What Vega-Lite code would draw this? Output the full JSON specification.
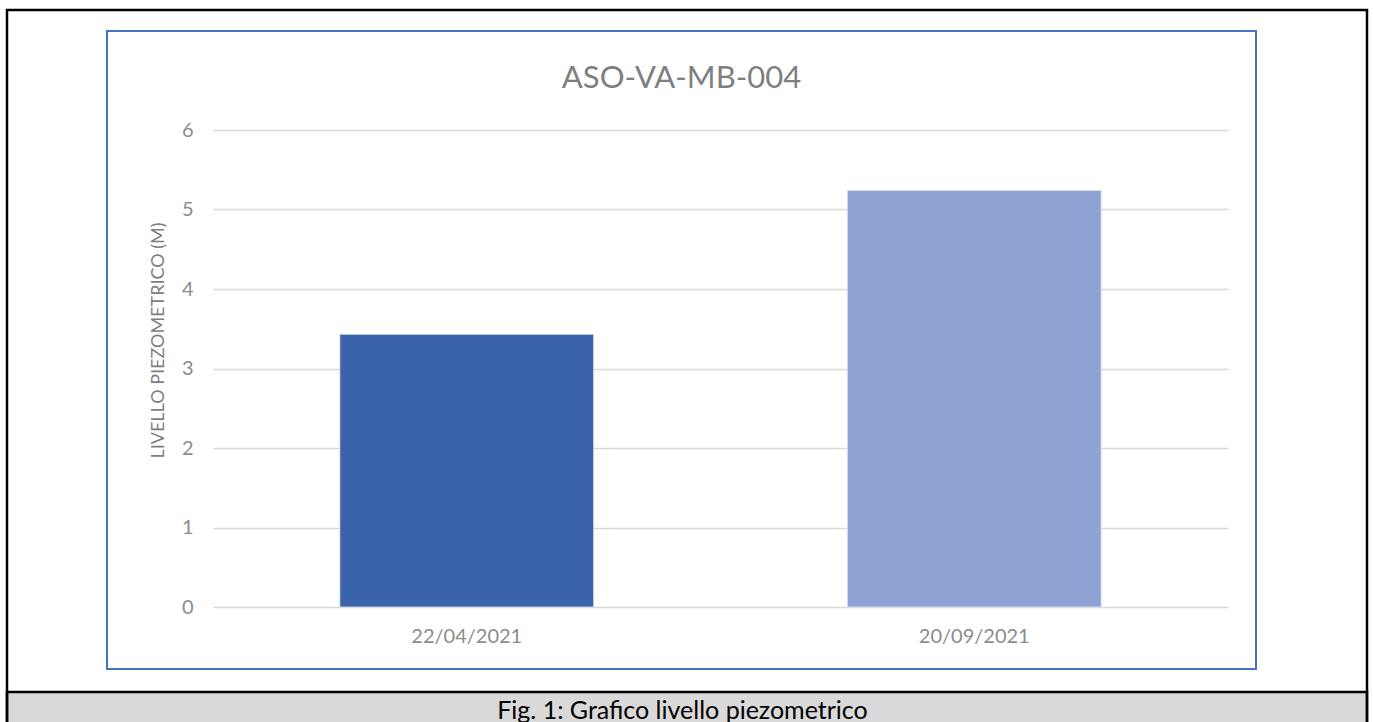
{
  "$schema": "https://vega.github.io/schema/vega-lite/v6.json",
  "width": 1015,
  "height": 477,
  "autosize": {"type": "none"},
  "padding": {"left": 213, "top": 130, "right": 145, "bottom": 115},
  "background": "white",
  "config": {"view": {"stroke": null}},
  "title": {
    "text": "ASO-VA-MB-004",
    "font": "Lato",
    "fontSize": 31,
    "fontWeight": "normal",
    "color": "#7f7f7f",
    "anchor": "middle",
    "frame": "group",
    "baseline": "alphabetic",
    "dx": -39,
    "offset": -110
  },
  "data": {
    "values": [
      {"data": "22/04/2021", "livello": 3.43},
      {"data": "20/09/2021", "livello": 5.24}
    ]
  },
  "layer": [
    {
      "data": {"values": [{}]},
      "mark": {"type": "rect", "fill": "#d9d9d9", "stroke": "black", "strokeWidth": 2.5},
      "encoding": {
        "x": {"value": -206},
        "x2": {"value": 1154},
        "y": {"value": 562},
        "y2": {"value": 610}
      }
    },
    {
      "data": {"values": [{}]},
      "mark": {"type": "rect", "fill": null, "fillOpacity": 0, "stroke": "black", "strokeWidth": 2.5},
      "encoding": {
        "x": {"value": -206},
        "x2": {"value": 1154},
        "y": {"value": -120},
        "y2": {"value": 610}
      }
    },
    {
      "data": {"values": [{}]},
      "mark": {"type": "rect", "fill": null, "fillOpacity": 0, "stroke": "#4472c4", "strokeWidth": 2},
      "encoding": {
        "x": {"value": -106},
        "x2": {"value": 1043},
        "y": {"value": -99},
        "y2": {"value": 539}
      }
    },
    {
      "mark": {"type": "bar", "stroke": "#dde4f2", "strokeWidth": 0.8},
      "encoding": {
        "x": {
          "field": "data",
          "type": "nominal",
          "sort": null,
          "scale": {"paddingInner": 0.5, "paddingOuter": 0.25},
          "axis": {
            "title": "Fig. 1: Grafico livello piezometrico",
            "titleFont": "Lato",
            "titleFontSize": 25,
            "titleFontWeight": "normal",
            "titleColor": "black",
            "titleBaseline": "alphabetic",
            "titleAnchor": "middle",
            "titleX": 469,
            "titleY": 111,
            "labelFont": "Lato",
            "labelFontSize": 20,
            "labelColor": "#8c8c8c",
            "labelAngle": 0,
            "labelPadding": 19,
            "ticks": false,
            "domain": false,
            "grid": false,
            "zindex": 1
          }
        },
        "y": {
          "field": "livello",
          "type": "quantitative",
          "scale": {"domain": [0, 6], "nice": false},
          "axis": {
            "title": "LIVELLO PIEZOMETRICO (M)",
            "titleFont": "Lato",
            "titleFontSize": 18,
            "titleFontWeight": "normal",
            "titleColor": "#7f7f7f",
            "titleBaseline": "alphabetic",
            "titleAngle": -90,
            "titleX": -50,
            "titleY": 210,
            "values": [0, 1, 2, 3, 4, 5, 6],
            "labelFont": "Lato",
            "labelFontSize": 20,
            "labelColor": "#8c8c8c",
            "labelPadding": 20,
            "ticks": false,
            "domain": false,
            "grid": true,
            "gridColor": "#d9d9d9",
            "gridWidth": 1.5,
            "zindex": 0
          }
        },
        "color": {
          "field": "data",
          "type": "nominal",
          "sort": null,
          "scale": {"domain": ["22/04/2021", "20/09/2021"], "range": ["#3b63ac", "#8ea3d4"]},
          "legend": null
        }
      }
    }
  ]
}
